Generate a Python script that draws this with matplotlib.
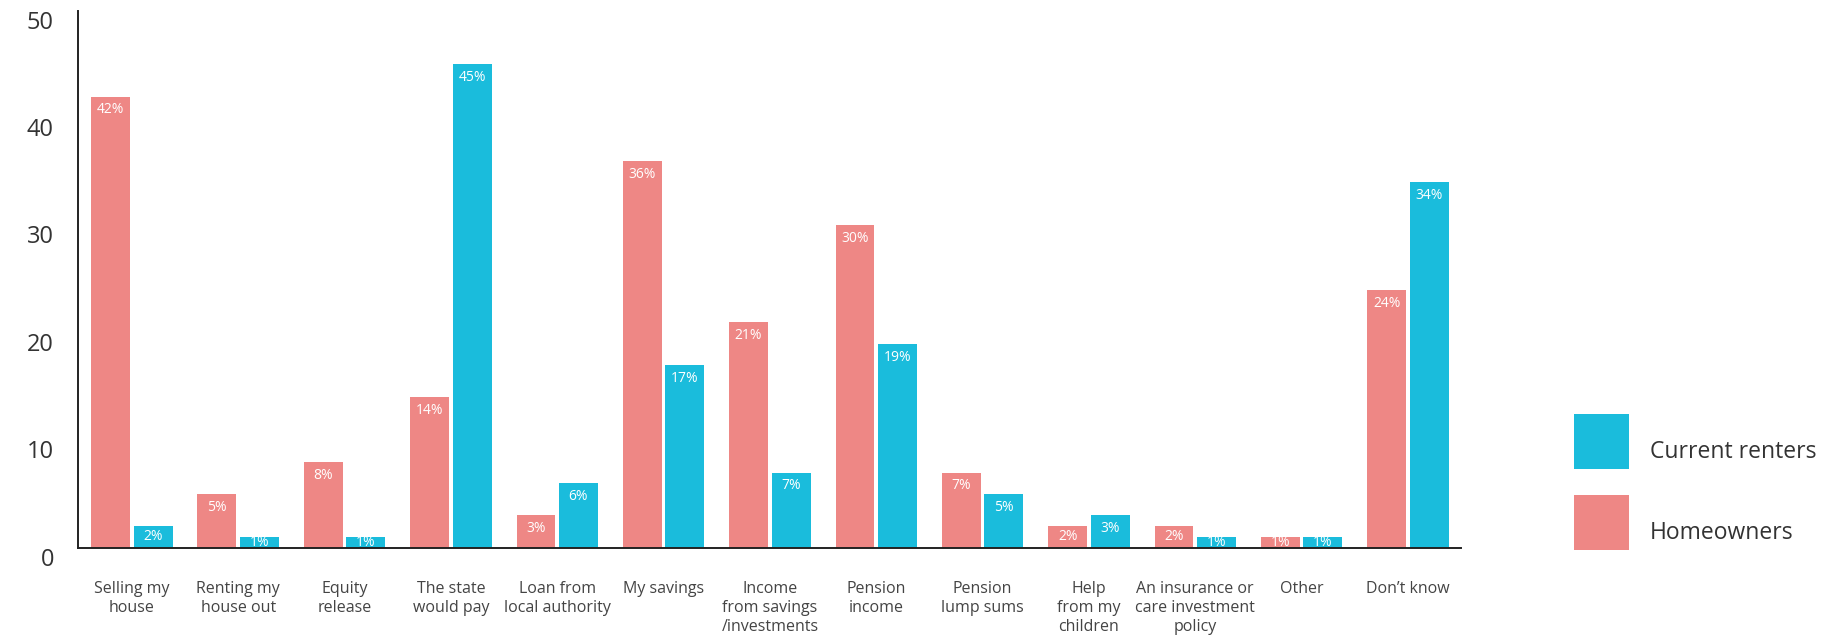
import matplotlib
matplotlib.use("Agg")
import matplotlib.pyplot as plt
import matplotlib.transforms as mtransforms
from matplotlib.patches import Rectangle
import numpy as np

categories = [
    "Selling my\nhouse", "Renting my\nhouse out", "Equity\nrelease",
    "The state\nwould pay", "Loan from\nlocal authority", "My savings",
    "Income\nfrom savings\n/investments", "Pension\nincome", "Pension\nlump sums",
    "Help\nfrom my\nchildren", "An insurance or\ncare investment\npolicy",
    "Other", "Don\u2019t know",
]
homeowners = [42, 5, 8, 14, 3, 36, 21, 30, 7, 2, 2, 1, 24]
renters = [2, 1, 1, 45, 6, 17, 7, 19, 5, 3, 1, 1, 34]
y_ticks = [0, 10, 20, 30, 40, 50]

PINK = "#EE8785"
BLUE = "#1ABCDC"
TXT = "#333333"

plt.rcParams['font.family'] = ['Open Sans', 'DejaVu Sans']

fig = plt.figure(figsize=(18.43, 6.44), dpi=100)
ax = fig.add_axes([0.0421, 0.1495, 0.7928 - 0.0421, 0.9836 - 0.1495])

x = np.arange(len(categories))
w = 0.365
off = 0.2
b1 = ax.bar(x - off, homeowners, w, color=PINK, label="Homeowners", zorder=2)
b2 = ax.bar(x + off, renters, w, color=BLUE, label="Current renters", zorder=2)

for bars, vals in ((b1, homeowners), (b2, renters)):
    for rect, v in zip(bars, vals):
        ypos = v - min(1.25, 0.5 * v)
        ax.text(rect.get_x() + rect.get_width() / 2, ypos, f"{v}%",
                ha='center', va='center', color='white', fontsize=10, zorder=3)

ax.set_xlim(-0.51, 12.5)
ax.set_ylim(0, 50)
ax.set_xticks(x)
ax.set_xticklabels(categories, fontsize=11.5, color="#444444", linespacing=1.25, va='top')
ax.set_yticks(y_ticks)
ax.set_yticklabels([str(t) for t in y_ticks], fontsize=17, color=TXT)
ax.tick_params(axis='x', length=0, pad=24)
ax.tick_params(axis='y', length=0, pad=17)

shift = mtransforms.ScaledTranslation(0, -9 / 100, fig.dpi_scale_trans)
for lab in ax.get_yticklabels():
    lab.set_transform(lab.get_transform() + shift)

for s in ('top', 'right'):
    ax.spines[s].set_visible(False)
for s in ('left', 'bottom'):
    ax.spines[s].set_color('#222222')
    ax.spines[s].set_linewidth(1.4)

# legend drawn manually
legend_items = [("Current renters", BLUE), ("Homeowners", PINK)]
W, H = 1843, 644
for i, (name, col) in enumerate(legend_items):
    top_px = 414 + i * 81
    fig.patches.append(Rectangle((1574 / W, 1 - (top_px + 55) / H), 55 / W, 55 / H,
                                 transform=fig.transFigure, facecolor=col, edgecolor='none'))
    fig.text(1650 / W, 1 - (top_px + 38) / H, name, fontsize=16.5, color=TXT,
             ha='left', va='center')

fig.savefig("out.png", dpi=100)
